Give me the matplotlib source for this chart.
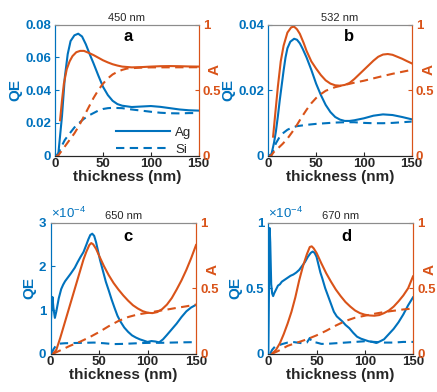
import numpy as np
import matplotlib
matplotlib.use("Agg")
import matplotlib.pyplot as plt
from matplotlib.ticker import FuncFormatter

plt.rcParams['font.family'] = ['Liberation Sans', 'DejaVu Sans']
plt.rcParams['mathtext.fontset'] = 'custom'
plt.rcParams['mathtext.rm'] = 'Liberation Sans'
plt.rcParams['mathtext.it'] = 'Liberation Sans:italic'

BLUE = '#0072BD'
ORANGE = '#D95319'
DARK = '#262626'

# ---------------- 450 nm ----------------
a_ag_qe_x = [0, 3, 5, 7, 10, 13, 16, 20, 24, 28, 32, 36, 40, 45, 50, 55, 60, 65, 70, 80, 90, 100, 110, 120, 130, 140, 150]
a_ag_qe = [0, 0, 0.012, 0.024, 0.048, 0.062, 0.070, 0.0735, 0.0745, 0.0728, 0.068, 0.062, 0.0564, 0.049, 0.042,
           0.037, 0.0335, 0.0315, 0.0305, 0.0297, 0.0300, 0.0303, 0.0298, 0.0290, 0.0282, 0.0277, 0.0275]
a_si_qe_x = [0, 3, 6, 10, 15, 20, 25, 30, 35, 40, 45, 50, 55, 60, 70, 80, 90, 100, 110, 120, 130, 140, 150]
a_si_qe = [0, 0.001, 0.005, 0.0096, 0.0135, 0.0172, 0.020, 0.0225, 0.0245, 0.026, 0.0275, 0.0285, 0.029, 0.0292,
           0.029, 0.0282, 0.0275, 0.0268, 0.0262, 0.0259, 0.0258, 0.026, 0.026]
a_ag_abs_x = [5, 7, 9, 12, 15, 18, 22, 26, 30, 35, 40, 45, 50, 55, 60, 65, 70, 80, 90, 100, 110, 120, 130, 140, 150]
a_ag_abs = [0.27, 0.42, 0.55, 0.66, 0.72, 0.76, 0.79, 0.80, 0.80, 0.785, 0.768, 0.748, 0.728, 0.712, 0.698, 0.688,
            0.68, 0.674, 0.676, 0.68, 0.683, 0.684, 0.683, 0.681, 0.68]
a_si_abs_x = [0, 3, 6, 10, 15, 20, 25, 30, 35, 40, 45, 50, 55, 60, 65, 70, 75, 80, 90, 100, 150]
a_si_abs = [0, 0, 0.03, 0.07, 0.12, 0.17, 0.23, 0.30, 0.37, 0.44, 0.50, 0.55, 0.59, 0.62, 0.64, 0.655, 0.665,
            0.668, 0.672, 0.674, 0.675]

# ---------------- 532 nm ----------------
b_ag_qe_x = [0, 3, 6, 8, 10, 12, 14, 16, 18, 20, 23, 27, 30, 33, 36, 40, 45, 50, 55, 60, 65, 70, 75, 80, 85, 90,
             100, 110, 120, 130, 140, 150]
b_ag_qe = [0, 0, 0.004, 0.0075, 0.012, 0.017, 0.0215, 0.026, 0.030, 0.0328, 0.0348, 0.0357, 0.0354, 0.0343,
           0.0326, 0.030, 0.0262, 0.022, 0.0185, 0.0155, 0.0133, 0.0118, 0.011, 0.0106, 0.0106, 0.0108, 0.0114,
           0.0122, 0.0126, 0.0124, 0.0118, 0.0111]
b_si_qe_x = [0, 3, 5, 8, 12, 16, 20, 25, 30, 40, 50, 60, 70, 80, 90, 100, 110, 120, 130, 140, 150]
b_si_qe = [0, 0.0003, 0.0015, 0.0038, 0.0058, 0.007, 0.0079, 0.0086, 0.009, 0.0094, 0.0097, 0.0099, 0.0101,
           0.0102, 0.0102, 0.0100, 0.0099, 0.0099, 0.0100, 0.0102, 0.0104]
b_ag_abs_x = [5, 7, 10, 13, 16, 20, 24, 27, 30, 33, 37, 40, 45, 50, 55, 60, 65, 70, 75, 80, 85, 90, 95, 100, 105,
              110, 115, 120, 125, 130, 135, 140, 145, 150]
b_ag_abs = [0.145, 0.30, 0.527, 0.72, 0.84, 0.94, 0.98, 0.985, 0.965, 0.93, 0.86, 0.80, 0.72, 0.665, 0.615, 0.575,
            0.55, 0.537, 0.534, 0.54, 0.555, 0.585, 0.62, 0.655, 0.69, 0.725, 0.755, 0.772, 0.776, 0.77, 0.755,
            0.74, 0.722, 0.705]
b_si_abs_x = [0, 3, 6, 10, 15, 20, 25, 30, 35, 40, 45, 50, 55, 60, 65, 70, 80, 90, 100, 110, 120, 130, 140, 150]
b_si_abs = [0, 0, 0.03, 0.055, 0.09, 0.13, 0.18, 0.235, 0.295, 0.35, 0.40, 0.44, 0.47, 0.495, 0.51, 0.523, 0.54,
            0.557, 0.572, 0.59, 0.608, 0.625, 0.64, 0.655]

# ---------------- 650 nm (QE in units of 1e-4) ----------------
c_ag_qe_x = [0, 1, 2, 3, 4.5, 6, 8.5, 11, 13, 15, 18, 21, 25, 28, 31, 34, 37, 39, 41, 43, 45, 47, 49, 51, 54, 57,
             60, 63, 66, 69, 72, 76, 80, 84, 88, 92, 96, 100, 104, 108, 112, 116, 120, 125, 130, 135, 140, 145, 150]
c_ag_qe_e4 = [0.59, 1.0, 1.3, 1.05, 0.82, 0.97, 1.27, 1.48, 1.58, 1.66, 1.75, 1.84, 1.97, 2.1, 2.22, 2.33, 2.5,
              2.62, 2.72, 2.75, 2.70, 2.55, 2.35, 2.15, 1.9, 1.65, 1.45, 1.24, 1.05, 0.87, 0.74, 0.6, 0.5, 0.42,
              0.37, 0.33, 0.3, 0.27, 0.29, 0.28, 0.26, 0.33, 0.43, 0.56, 0.69, 0.84, 0.97, 1.06, 1.12]
c_si_qe_x = [1, 3, 6, 9, 15, 25, 35, 45, 55, 65, 75, 85, 95, 105, 115, 125, 135, 150]
c_si_qe_e4 = [0.0, 0.1, 0.2, 0.23, 0.24, 0.245, 0.25, 0.255, 0.24, 0.22, 0.225, 0.235, 0.245, 0.25, 0.25, 0.255,
              0.26, 0.265]
c_ag_abs_x = [2.7, 6, 10, 14, 18, 22, 26, 30, 34, 37, 40, 42, 44, 47, 50, 55, 60, 65, 70, 75, 80, 85, 90, 95, 100,
              105, 110, 115, 120, 125, 130, 135, 140, 145, 150]
c_ag_abs = [0, 0.03, 0.12, 0.22, 0.32, 0.42, 0.52, 0.62, 0.72, 0.78, 0.83, 0.845, 0.835, 0.80, 0.75, 0.67, 0.60,
            0.54, 0.49, 0.445, 0.405, 0.37, 0.345, 0.325, 0.313, 0.31, 0.318, 0.34, 0.375, 0.425, 0.49, 0.56, 0.64,
            0.73, 0.83]
c_si_abs_x = [2.7, 10, 20, 30, 40, 50, 60, 70, 80, 90, 100, 110, 120, 130, 140, 150]
c_si_abs = [0, 0.025, 0.06, 0.09, 0.125, 0.165, 0.21, 0.25, 0.28, 0.30, 0.312, 0.325, 0.337, 0.35, 0.362, 0.375]

# ---------------- 670 nm (QE in units of 1e-4) ----------------
d_ag_qe_x = [0, 0.7, 1.4, 2, 3, 4, 5, 6, 8, 10, 12, 14, 17, 20, 23, 26, 29, 32, 35, 38, 41, 44, 46, 48, 50, 52, 54,
             56, 59, 62, 65, 68, 71, 74, 77, 80, 84, 88, 92, 96, 100, 104, 108, 112, 116, 120, 125, 130, 135, 140,
             145, 150]
d_ag_qe_e4 = [0.0, 0.5, 0.96, 0.85, 0.53, 0.46, 0.44, 0.46, 0.49, 0.52, 0.53, 0.55, 0.565, 0.58, 0.595, 0.605,
              0.62, 0.64, 0.67, 0.70, 0.74, 0.77, 0.78, 0.77, 0.74, 0.68, 0.62, 0.575, 0.50, 0.44, 0.38, 0.32,
              0.285, 0.265, 0.245, 0.22, 0.195, 0.16, 0.13, 0.115, 0.105, 0.095, 0.09, 0.082, 0.095, 0.11, 0.15,
              0.19, 0.24, 0.30, 0.37, 0.43]
d_si_qe_x = [2, 4, 7, 11, 15, 20, 25, 30, 35, 40, 43, 45, 50, 55, 60, 70, 80, 90, 100, 110, 120, 130, 140, 150]
d_si_qe_e4 = [0.0, 0.03, 0.055, 0.065, 0.075, 0.085, 0.09, 0.085, 0.08, 0.085, 0.12, 0.09, 0.085, 0.075, 0.075,
              0.08, 0.085, 0.09, 0.095, 0.09, 0.085, 0.085, 0.09, 0.09]
d_ag_abs_x = [4, 8, 12, 16, 20, 24, 28, 32, 36, 40, 43, 45, 47, 50, 55, 60, 65, 70, 75, 80, 85, 90, 95, 100, 105,
              110, 115, 120, 125, 130, 135, 140, 145, 150]
d_ag_abs = [0, 0.03, 0.08, 0.15, 0.23, 0.32, 0.43, 0.56, 0.67, 0.76, 0.815, 0.82, 0.805, 0.77, 0.69, 0.615, 0.55,
            0.49, 0.44, 0.395, 0.36, 0.33, 0.31, 0.298, 0.292, 0.29, 0.295, 0.31, 0.33, 0.36, 0.40, 0.445, 0.50,
            0.59]
d_si_abs_x = [4, 10, 20, 30, 40, 50, 60, 70, 80, 90, 100, 110, 120, 130, 140, 150]
d_si_abs = [0, 0.02, 0.06, 0.085, 0.11, 0.14, 0.175, 0.215, 0.25, 0.275, 0.29, 0.305, 0.318, 0.328, 0.338, 0.345]

E4 = 1e-4

panels = [
    dict(title='450 nm', letter='a', pos=[0.1265, 0.603, 0.328, 0.334], letter_xy=(0.51, 0.91),
         a_label_xy=(1.112, 0.66),
         ag_qe=(a_ag_qe_x, a_ag_qe), si_qe=(a_si_qe_x, a_si_qe),
         ag_abs=(a_ag_abs_x, a_ag_abs), si_abs=(a_si_abs_x, a_si_abs),
         qe_ticks=[0, 0.02, 0.04, 0.06, 0.08], qe_scale=1, legend=True),
    dict(title='532 nm', letter='b', pos=[0.614, 0.603, 0.328, 0.334], letter_xy=(0.565, 0.91),
         a_label_xy=(1.118, 0.66),
         ag_qe=(b_ag_qe_x, b_ag_qe), si_qe=(b_si_qe_x, b_si_qe),
         ag_abs=(b_ag_abs_x, b_ag_abs), si_abs=(b_si_abs_x, b_si_abs),
         qe_ticks=[0, 0.02, 0.04], qe_scale=1, legend=False),
    dict(title='650 nm', letter='c', pos=[0.1156, 0.0977, 0.333, 0.334], letter_xy=(0.53, 0.895),
         a_label_xy=(1.115, 0.64),
         ag_qe=(c_ag_qe_x, np.array(c_ag_qe_e4) * E4), si_qe=(c_si_qe_x, np.array(c_si_qe_e4) * E4),
         ag_abs=(c_ag_abs_x, c_ag_abs), si_abs=(c_si_abs_x, c_si_abs),
         qe_ticks=[0, 1 * E4, 2 * E4, 3 * E4], qe_scale=E4, legend=False),
    dict(title='670 nm', letter='d', pos=[0.614, 0.0977, 0.331, 0.334], letter_xy=(0.54, 0.895),
         a_label_xy=(1.118, 0.64),
         ag_qe=(d_ag_qe_x, np.array(d_ag_qe_e4) * E4), si_qe=(d_si_qe_x, np.array(d_si_qe_e4) * E4),
         ag_abs=(d_ag_abs_x, d_ag_abs), si_abs=(d_si_abs_x, d_si_abs),
         qe_ticks=[0, 0.5 * E4, 1 * E4], qe_scale=E4, legend=False),
]

fig = plt.figure(figsize=(4.37, 3.92), dpi=100)
LW = 1.5
DASH = (0, (4, 2.6))
TICK_FS = 9.5
LABEL_FS = 11

for p in panels:
    ax = fig.add_axes(p['pos'])
    ax2 = ax.twinx()

    ax.plot(*p['ag_qe'], color=BLUE, lw=LW, label='Ag')
    ax.plot(*p['si_qe'], color=BLUE, lw=LW, linestyle=DASH, label='Si')
    ax2.plot(*p['ag_abs'], color=ORANGE, lw=LW)
    ax2.plot(*p['si_abs'], color=ORANGE, lw=LW, linestyle=DASH)

    ax.set_xlim(0, 150)
    ax.set_xticks([0, 50, 100, 150])
    ax.set_ylim(0, p['qe_ticks'][-1])
    ax.set_yticks(p['qe_ticks'])
    scale = p['qe_scale']
    ax.yaxis.set_major_formatter(FuncFormatter(lambda v, pos, s=scale: f"{round(v / s, 6):g}"))
    ax2.set_ylim(0, 1)
    ax2.set_yticks([0, 0.5, 1])
    ax2.yaxis.set_major_formatter(FuncFormatter(lambda v, pos: f"{v:g}"))

    ax.tick_params(axis='x', direction='in', length=3, pad=2, colors=DARK, labelsize=TICK_FS)
    ax.tick_params(axis='y', direction='in', length=3, pad=3, colors=BLUE, labelsize=TICK_FS)
    ax2.tick_params(axis='y', direction='in', length=3, pad=3, colors=ORANGE, labelsize=TICK_FS)
    for lab in ax.get_xticklabels() + ax.get_yticklabels() + ax2.get_yticklabels():
        lab.set_fontweight('bold')

    for a in (ax, ax2):
        a.spines['left'].set_color(BLUE)
        a.spines['right'].set_color(ORANGE)
        a.spines['top'].set_color('#8c8c8c')
        a.spines['bottom'].set_color(DARK)
        for s in a.spines.values():
            s.set_linewidth(0.8)

    ax.set_xlabel('thickness (nm)', fontsize=LABEL_FS, fontweight='bold', color=DARK, labelpad=0)
    ax.set_ylabel('QE', fontsize=LABEL_FS, fontweight='bold', color=BLUE, labelpad=2)
    ax2.set_ylabel('A', fontsize=LABEL_FS, fontweight='bold', color=ORANGE, rotation=90)
    ax2.yaxis.set_label_coords(*p['a_label_xy'])
    ax2.yaxis.label.set_va('center')
    ax2.yaxis.label.set_ha('center')
    ax.set_title(p['title'], fontsize=8, color=DARK, pad=3)
    ax.text(*p['letter_xy'], p['letter'], transform=ax.transAxes, ha='center', va='center',
            fontsize=12, fontweight='bold', color='black')

    if scale != 1:
        ax.text(0.0, 1.01, r'$\times10^{-4}$', transform=ax.transAxes, ha='left', va='bottom',
                fontsize=9.5, color=BLUE)

    if p['legend']:
        ax.legend(loc='lower right', bbox_to_anchor=(0.985, -0.04), frameon=False, fontsize=9.5,
                  handlelength=4.1, handletextpad=0.35, labelspacing=0.35, borderaxespad=0.0,
                  labelcolor=DARK)

fig.savefig('out.png', dpi=100)
